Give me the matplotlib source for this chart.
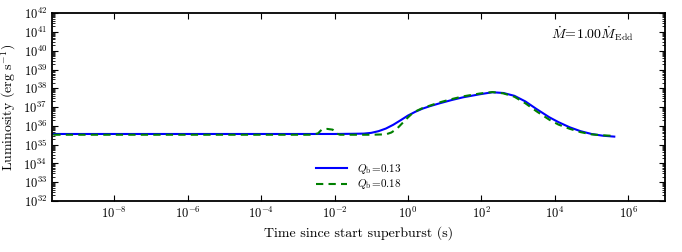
import numpy as np
import matplotlib
matplotlib.use("Agg")
import matplotlib.pyplot as plt
from matplotlib.ticker import LogLocator, NullLocator

plt.rcParams['font.family'] = ['cmr10', 'DejaVu Serif']
plt.rcParams['mathtext.fontset'] = 'cm'
plt.rcParams['axes.formatter.use_mathtext'] = True
plt.rcParams['axes.unicode_minus'] = False

# --- data (log10 t [s], log10 L [erg/s]) ---
logt_013 = [-10, -2.0, -1.5, -1.2, -1.0, -0.8, -0.6, -0.4, -0.2, 0.0, 0.2, 0.4,
            0.6, 0.86, 1.2, 1.5, 1.95, 2.3, 2.6, 2.9, 3.2, 3.5, 3.85, 4.1,
            4.4, 4.7, 5.0, 5.3, 5.62]
logL_013 = [35.57, 35.57, 35.58, 35.59, 35.63, 35.72, 35.86, 36.06, 36.30,
            36.55, 36.75, 36.92, 37.05, 37.20, 37.38, 37.52, 37.68, 37.79,
            37.75, 37.60, 37.30, 36.90, 36.46, 36.20, 35.93, 35.72, 35.57,
            35.48, 35.43]

logt_018 = [-10, -2.6, -2.45, -2.35, -2.2, -2.05, -1.95, -1.85, -1.0, -0.6,
            -0.45, -0.3, -0.15, 0.0, 0.15, 0.4, 0.6, 0.86, 1.2, 1.5, 1.95,
            2.3, 2.6, 2.9, 3.2, 3.5, 3.85, 4.1, 4.4, 4.7, 5.0, 5.3, 5.6]
logL_018 = [35.53, 35.53, 35.60, 35.80, 35.84, 35.80, 35.60, 35.53, 35.53,
            35.55, 35.65, 35.85, 36.15, 36.45, 36.72, 36.95, 37.08, 37.25,
            37.43, 37.57, 37.72, 37.80, 37.73, 37.55, 37.20, 36.78, 36.33,
            36.07, 35.85, 35.67, 35.55, 35.50, 35.47]

x_ticks = [1e-8, 1e-6, 1e-4, 1e-2, 1e0, 1e2, 1e4, 1e6]

fig = plt.figure(figsize=(6.82, 2.52), dpi=100)
ax = fig.add_axes([0.076, 0.202, 0.899, 0.746])

ax.plot(10**np.array(logt_013), 10**np.array(logL_013), color='#0000ff',
        lw=1.5, label=r'$Q_{\rm b}\!=\!0.13$')
ax.plot(10**np.array(logt_018), 10**np.array(logL_018), color='#008000',
        lw=1.5, ls='--', dashes=(3.5, 2.5), label=r'$Q_{\rm b}\!=\!0.18$')

ax.set_xscale('log')
ax.set_yscale('log')
ax.set_xlim(2e-10, 1e7)
ax.set_ylim(1e32, 1e42)
ax.set_xticks(x_ticks)
ax.xaxis.set_minor_locator(NullLocator())
ax.yaxis.set_major_locator(LogLocator(base=10, numticks=20))
ax.yaxis.set_minor_locator(LogLocator(base=10, subs=np.arange(2, 10), numticks=20))

ax.tick_params(which='both', direction='in', top=True, right=True, labelsize=9)
ax.tick_params(which='major', length=4, width=0.8)
ax.tick_params(which='minor', length=2, width=0.6)
for s in ax.spines.values():
    s.set_linewidth(1.3)

ax.set_xlabel('Time since start superburst (s)', fontsize=10)
ax.set_ylabel(r'Luminosity (erg s$^{-1}$)', fontsize=10)

ax.text(0.949, 0.89, r'$\dot{M}\!=\!1.00\dot{M}_{\rm Edd}$', transform=ax.transAxes,
        ha='right', va='center', fontsize=10)

ax.legend(loc='center', bbox_to_anchor=(0.5, 0.13), frameon=False, fontsize=8,
          handlelength=2.8, labelspacing=0.15, handletextpad=0.9)

fig.savefig('out.png', dpi=100)
